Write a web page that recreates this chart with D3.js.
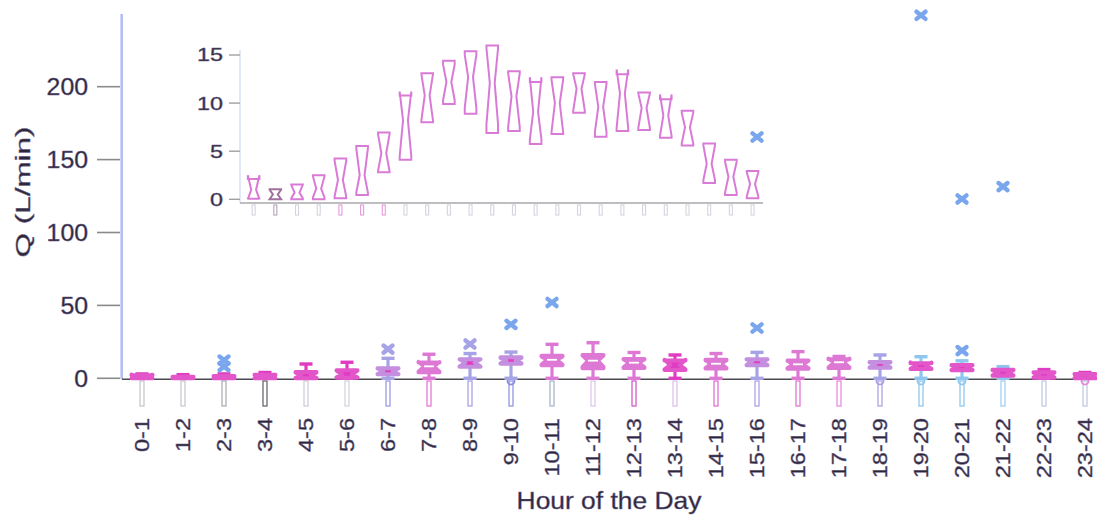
<!DOCTYPE html>
<html>
<head>
<meta charset="utf-8">
<script src="https://cdn.jsdelivr.net/npm/d3@7"></script>
<style>
  html, body { margin: 0; padding: 0; background: #fff; }
  svg { display: block; }
  text { font-family: "Liberation Sans", Arial, sans-serif; fill: #2c2735; stroke: #6d6290; stroke-width: 0.45; }
</style>
</head>
<body>
<svg id="chart" width="1097" height="515"></svg>
<script>
// Hourly flow rate Q (L/min), one notched box per hour of the day
const hours = ["0-1","1-2","2-3","3-4","4-5","5-6","6-7","7-8","8-9","9-10","10-11","11-12",
               "12-13","13-14","14-15","15-16","16-17","17-18","18-19","19-20","20-21","21-22","22-23","23-24"];

const q1      = [0.05, 0.0, 0.0, 0.0, 0.1, 0.45, 2.8, 4.1, 8.0, 9.9, 8.9, 6.9, 7.1, 5.75, 6.8, 9.0, 6.5, 7.1, 7.2, 6.4, 5.6, 1.7, 0.45, 0.1];
const medians = [1.0, 0.5, 0.7, 1.1, 2.0, 2.5, 4.8, 8.2, 10.8, 12.2, 12.7, 12.1, 10.7, 9.1, 10.0, 11.5, 9.6, 11.0, 9.5, 8.7, 7.5, 3.7, 2.35, 1.6];
const q3      = [2.1, 1.05, 1.55, 2.5, 4.25, 5.55, 6.95, 10.8, 13.1, 14.4, 15.4, 16.0, 13.3, 12.2, 12.7, 13.1, 12.2, 13.0, 11.1, 10.4, 9.2, 5.8, 4.1, 2.95];
const notchLo = [0.0, 0.0, 0.1, 0.2, 0.3, 0.7, 2.9, 4.5, 8.2, 10.3, 9.5, 7.8, 7.5, 6.2, 7.0, 9.2, 7.0, 7.4, 7.4, 6.6, 5.8, 2.0, 0.7, 0.3];
const notchHi = [2.5, 1.0, 1.5, 2.4, 4.0, 5.3, 6.8, 11.2, 13.0, 14.0, 15.0, 15.7, 13.1, 12.7, 12.4, 13.0, 12.0, 13.5, 11.0, 10.9, 9.0, 5.6, 3.9, 2.8];
const whiskerLo = [0, 0, 0, 0, 0, 0, 0, 0, 0, 0, 0, 0, 0, 0, 0, 0, 0, 0, 0, 0, 0, 0, 0, 0];
const whiskerHi = [3, 2.5, 3, 4, 9.8, 11, 13.7, 16.5, 17, 18, 23.3, 24.4, 17.7, 16, 17, 17.8, 18.3, 15, 16, 14.8, 12, 8, 6, 4];

// Outliers: [hour, Q]
const outliers = [["2-3", 8], ["2-3", 12.5], ["9-10", 37], ["10-11", 52], ["15-16", 34.5], ["15-16", 165.5],
                  ["19-20", 249], ["20-21", 19], ["20-21", 123], ["21-22", 131.5]];
const faintOutliers = [["6-7", 20], ["8-9", 23.5]];

const mainTicks = [0, 50, 100, 150, 200];
const insetTicks = [0, 5, 10, 15];

// ---------- drawing ----------
const svg = d3.select("#chart");

const x = d3.scaleBand().domain(hours).range([121.5, 1105.5]);
const y = d3.scaleLinear().domain([0, 250]).range([378.3, 13.8]);
const xi = d3.scaleBand().domain(hours).range([242.8, 763.4]);
const yi = d3.scaleLinear().domain([0, 15]).range([199.3, 55]);

const PINK = "#d97bd6", MAGENTA = "#e03cc2", MAG_EDGE = "#e256c9", LIGHT_PINK = "#de78d5";
const LAV = "#a6a3e6", SKY = "#8fc6ef", BLUE_X = "#79a6ec";

// per-hour looks of the main boxes
const outlineHours = new Set(["7-8","10-11","11-12","12-13","14-15","16-17","17-18"]);
const accent = {"6-7": LAV, "8-9": LAV, "9-10": LAV, "15-16": LAV, "18-19": LAV,
                "19-20": SKY, "20-21": SKY, "21-22": SKY};
const stubColor = ["#c9c9d0","#c9c9d0","#aeb0b8","#6a6a70","#cfd0d8","#d4d4dc","#9c9ce6","#e67ad6",
                   "#aaa2e6","#9494e2","#a9b9cc","#dcc8ee","#d65cc6","#dcc4ec","#e072d6","#b0a4e4",
                   "#e074d6","#e890de","#b0a4e4","#92c8f0","#92c8f0","#a2d2f2","#c2cae2","#c2cae2"];
const stubDot = {"9-10": "#8a8ee0", "18-19": "#a9a0e4", "19-20": "#8fc6ef", "20-21": "#8fc6ef", "23-24": "#e58ad8"};

const line = d3.line();

function notchPoints(cx, hw, fr, ys, i) {
  const L = cx - hw, R = cx + hw, Li = cx - hw * fr, Ri = cx + hw * fr;
  return [[L, ys(q1[i])], [L, ys(notchLo[i])], [Li, ys(medians[i])], [L, ys(notchHi[i])], [L, ys(q3[i])],
          [R, ys(q3[i])], [R, ys(notchHi[i])], [Ri, ys(medians[i])], [R, ys(notchLo[i])], [R, ys(q1[i])]];
}

// ----- main axes -----
const gAxis = svg.append("g");
mainTicks.forEach(t => {
  gAxis.append("line").attr("x1", 97).attr("x2", 120).attr("y1", y(t)).attr("y2", y(t))
    .attr("stroke", "#8a8a8e").attr("stroke-width", 1.6);
  gAxis.append("text").attr("transform", `translate(88,${y(t)}) scale(1.08,1)`)
    .attr("text-anchor", "end").attr("dy", "0.36em").attr("font-size", 23).text(t);
});
// stubs hanging below the hour axis
hours.forEach((h, i) => {
  const cx = x(h) + x.bandwidth() / 2;
  gAxis.append("rect").attr("x", cx - 2).attr("y", 381).attr("width", 4).attr("height", 25)
    .attr("fill", "#fff").attr("stroke", stubColor[i]).attr("stroke-width", 1.3);
  if (stubDot[h]) gAxis.append("circle").attr("cx", cx).attr("cy", 381).attr("r", 3.5)
    .attr("fill", "none").attr("stroke", stubDot[h]).attr("stroke-width", 1.8);
});
gAxis.append("line").attr("x1", 121.7).attr("x2", 121.7).attr("y1", 14).attr("y2", 379)
  .attr("stroke", "#b3bfee").attr("stroke-width", 2.6);
gAxis.append("line").attr("x1", 122).attr("x2", 1097).attr("y1", 379.3).attr("y2", 379.3)
  .attr("stroke", "#4a4a50").attr("stroke-width", 1.6);

// hour labels, read bottom to top
hours.forEach(h => {
  const cx = x(h) + x.bandwidth() / 2;
  gAxis.append("text").attr("transform", `translate(${cx},418) rotate(-90) scale(1.18,1)`)
    .attr("text-anchor", "end").attr("dy", "0.36em").attr("font-size", 20).text(h);
});
svg.append("text").attr("transform", "translate(609,509) scale(1.1,1)")
  .attr("text-anchor", "middle").attr("font-size", 24).text("Hour of the Day");
svg.append("text").attr("transform", "translate(22,192) rotate(-90) scale(1.5,1)")
  .attr("text-anchor", "middle").attr("dy", "0.36em").attr("font-size", 21).text("Q (L/min)");

// ----- main boxes -----
const gMain = svg.append("g");
hours.forEach((h, i) => {
  const cx = x(h) + x.bandwidth() / 2;
  const outline = outlineHours.has(h);
  const wc = accent[h] || (outline ? LIGHT_PINK : MAGENTA);
  gMain.append("line").attr("x1", cx).attr("x2", cx).attr("y1", y(q3[i])).attr("y2", y(whiskerHi[i]))
    .attr("stroke", wc).attr("stroke-width", 3.2);
  gMain.append("line").attr("x1", cx).attr("x2", cx).attr("y1", y(q1[i])).attr("y2", y(whiskerLo[i]))
    .attr("stroke", wc).attr("stroke-width", 3.2);
  [whiskerHi[i], whiskerLo[i]].forEach(v => {
    gMain.append("line").attr("x1", cx - 6.5).attr("x2", cx + 6.5).attr("y1", y(v)).attr("y2", y(v))
      .attr("stroke", wc).attr("stroke-width", 3.4);
  });
  gMain.append("path").attr("d", line(notchPoints(cx, 10.5, 0.45, y, i)) + "Z")
    .attr("fill", outline ? LIGHT_PINK : MAGENTA)
    .attr("stroke", outline ? LIGHT_PINK : (accent[h] === LAV ? "#c58fe0" : MAG_EDGE))
    .attr("stroke-width", 4).attr("stroke-linejoin", "round");
  if (outline) {
    gMain.append("line").attr("x1", cx - 5).attr("x2", cx + 5).attr("y1", y(medians[i])).attr("y2", y(medians[i]))
      .attr("stroke", "#fff").attr("stroke-width", 1.8);
  }
});

// outlier crosses
function cross(g, cx, cy, color) {
  g.append("path").attr("d", `M${cx - 4.5},${cy - 3.6}L${cx + 4.5},${cy + 3.6}M${cx - 4.5},${cy + 3.6}L${cx + 4.5},${cy - 3.6}`)
    .attr("stroke", color).attr("stroke-width", 4.4).attr("stroke-linecap", "round").attr("fill", "none");
}
outliers.forEach(([h, v]) => cross(gMain, x(h) + x.bandwidth() / 2, y(v), BLUE_X));
faintOutliers.forEach(([h, v]) => cross(gMain, x(h) + x.bandwidth() / 2, y(v), LAV));

// ----- inset: boxes on a 0–15 scale -----
const gIn = svg.append("g");
gIn.append("line").attr("x1", 240).attr("x2", 240).attr("y1", 50).attr("y2", 203)
  .attr("stroke", "#dbe2f5").attr("stroke-width", 1.6);
insetTicks.forEach(t => {
  gIn.append("line").attr("x1", 229).attr("x2", 240).attr("y1", yi(t)).attr("y2", yi(t))
    .attr("stroke", "#a0a0a6").attr("stroke-width", 1.4);
  gIn.append("text").attr("transform", `translate(223,${yi(t)}) scale(1.3,1)`)
    .attr("text-anchor", "end").attr("dy", "0.36em").attr("font-size", 18).text(t);
});
hours.forEach((h, i) => {
  const cx = xi(h) + xi.bandwidth() / 2;
  const c = (i >= 4 && i <= 6) ? "#e59ade" : (i === 1 ? "#b4a4b8" : "#d4d4de");
  gIn.append("rect").attr("x", cx - 1.5).attr("y", 205).attr("width", 3).attr("height", 10)
    .attr("fill", "#fff").attr("stroke", c).attr("stroke-width", 1.1);
});
gIn.append("line").attr("x1", 240).attr("x2", 763).attr("y1", 203).attr("y2", 203)
  .attr("stroke", "#a8a8ac").attr("stroke-width", 1.5);
hours.forEach((h, i) => {
  const cx = xi(h) + xi.bandwidth() / 2;
  gIn.append("path").attr("d", line(notchPoints(cx, 5.8, 0.42, yi, i)) + "Z")
    .attr("fill", "none").attr("stroke", i === 1 ? "#a2709f" : PINK)
    .attr("stroke-width", 2).attr("stroke-linejoin", "miter");
});
</script>
</body>
</html>
